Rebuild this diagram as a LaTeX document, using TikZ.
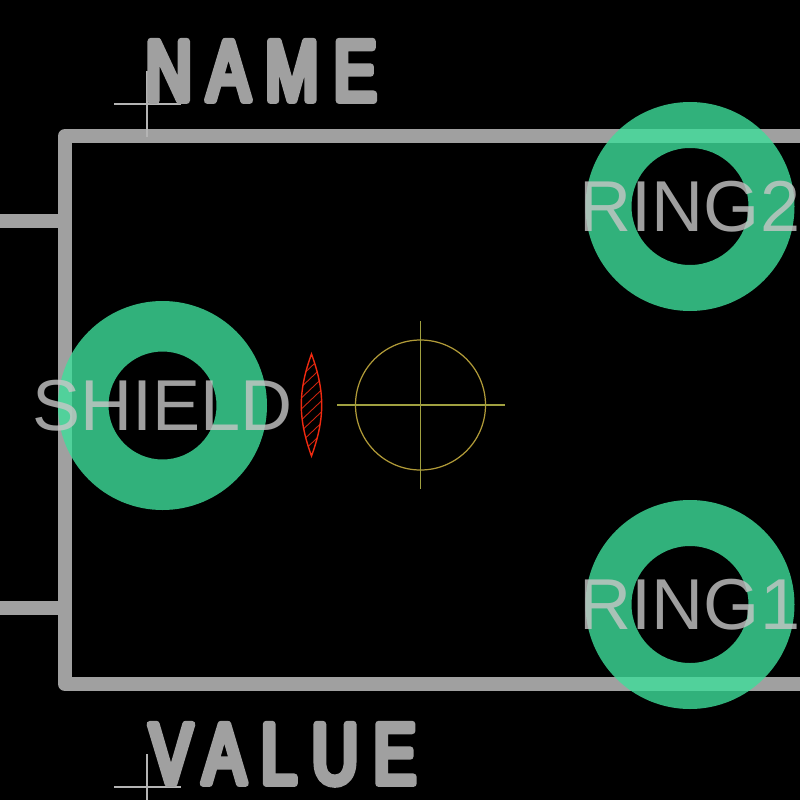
\documentclass[tikz,border=0pt]{standalone}
\usepackage{fontspec}
\setmainfont{Liberation Sans}
\newfontfamily\silkfont[FakeBold=8,FakeStretch=.74,LetterSpace=18]{Liberation Sans}
\usetikzlibrary{calc,positioning}
\definecolor{silkgray}{HTML}{A0A0A0}
\definecolor{targetgray}{HTML}{B4B4B4}
\definecolor{padgreen}{RGB}{62,222,154}
\definecolor{anchorgold}{HTML}{B09A38}
\definecolor{anchorolive}{HTML}{A0A040}
\definecolor{lensred}{HTML}{F02A10}
\tikzset{
	silk/.style={draw=silkgray,line width=.14cm,line join=round},
	silklabel/.style={text=silkgray,font=\silkfont\fontsize{24.5}{24.5}\selectfont,inner sep=0pt,anchor=base west},
	target/.style={draw=targetgray,line width=.35pt},
	padring/.style={fill=padgreen,fill opacity=.8,even odd rule},
	padlabel/.style={text=white!78!black,text opacity=.8,font=\fontsize{20.5}{20.5}\selectfont,inner sep=0pt},
	hatchline/.style={draw=lensred!85!black,line width=.25pt},
}
\begin{document}
\begin{tikzpicture}[x=.01cm,y=-.01cm]
	\fill [black] (0,0) rectangle (800,800);
	\useasboundingbox (0,0) rectangle (800,800);
	\clip (0,0) rectangle (800,800);
	% outline
	\draw [silk] (810,136) -- (65,136) -- (65,684) -- (810,684);
	\draw [silk] (65,221) -- ++(-75,0);
	\draw [silk] (65,608) -- ++(-75,0);
	% pads
	\coordinate (ring2) at (690,206.5);
	\coordinate (shield) at (162.5,405.5);
	\coordinate (ring1) at (690,604.5);
	\foreach \p/\r in {ring2/58.5,shield/54,ring1/58.5}
		\fill [padring] (\p) circle (104.5) (\p) circle (\r);
	\node [padlabel] (ring2label) at (690,207) {RING2};
	\node [padlabel] (shieldlabel) at (162.5,406) {SHIELD};
	\node [padlabel] (ring1label) at (690,605) {RING1};
	% reference and value
	\draw [target] (114,104) -- ++(67,0) (147,71) -- ++(0,66);
	\draw [target] (114,787) -- ++(67,0) (147,754) -- ++(0,66);
	\begin{scope}[line join=round,line cap=round]
		\node [silklabel] (namelabel) at (145,100.5) {NAME};
		\node [silklabel] (valuelabel) at (149,783.5) {VALUE};
	\end{scope}
	% lens
	\begin{scope}
		\clip (311.5,354) to[bend left=20] (311.5,456) to[bend left=20] cycle;
		\foreach \y in {360,371,...,480}
			\draw [hatchline] (295,\y) -- ++(40,-38);
	\end{scope}
	\draw [lensred,line width=.4pt] (311.5,354) to[bend left=20] (311.5,456) to[bend left=20] cycle;
	% anchor
	\coordinate (centre) at (420.5,405);
	\draw [anchorgold,line width=.35pt] (centre) circle (65);
	\draw [anchorolive,line width=.35pt] (337,405) -- ++(168,0) (420.5,321) -- ++(0,168);
\end{tikzpicture}
\end{document}
